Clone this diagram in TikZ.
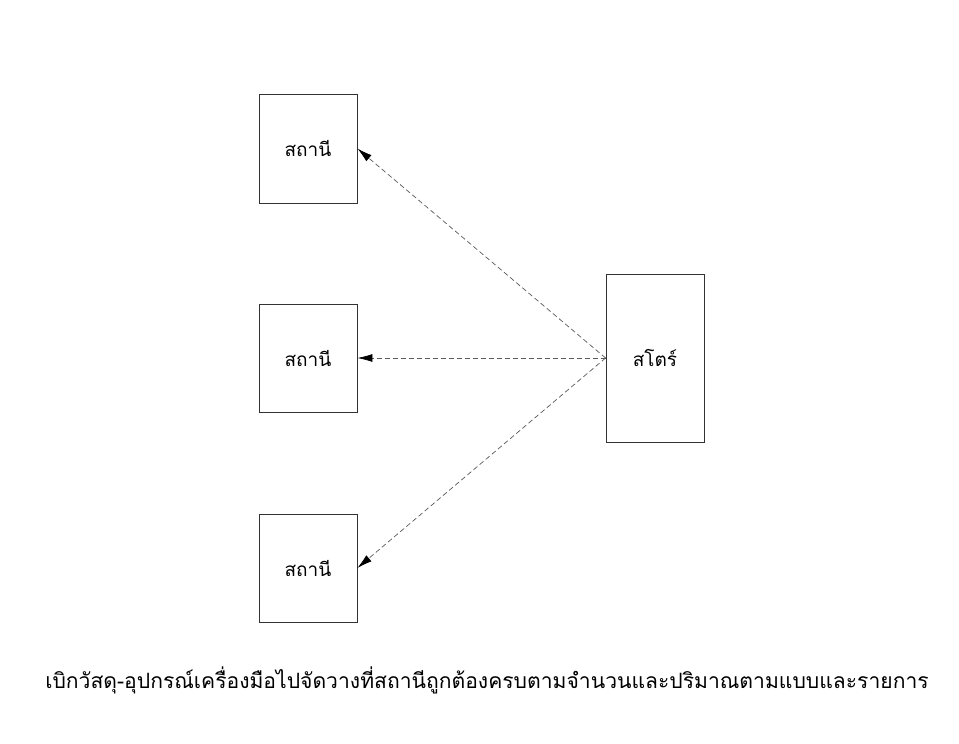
\documentclass[tikz,border=0pt]{standalone}
\usepackage{fontspec}
\newfontfamily\thaifont[Script=Thai]{Loma}
\usetikzlibrary{arrows.meta}
\begin{document}
\begin{tikzpicture}[x=1pt,y=-1pt,
  box/.style={draw=black!80,line width=0.8pt,fill=white,inner sep=0pt,font=\thaifont\fontsize{19}{22}\selectfont},
  link/.style={draw=black!65,dashed,dash pattern=on 5pt off 3pt,line width=0.7pt,-{Latex[length=15pt,width=8pt,black]}}]
\useasboundingbox (0,0) rectangle (959,744);
\node[box,minimum width=98pt,minimum height=109pt] (s1) at (308,148.5) {สถานี};
\node[box,minimum width=98pt,minimum height=108pt] (s2) at (308,358) {สถานี};
\node[box,minimum width=98pt,minimum height=108pt] (s3) at (308,568) {สถานี};
\node[box,minimum width=98pt,minimum height=168pt] (st) at (655,358) {สโตร์};
\draw[link] (st.west) -- (s1.east);
\draw[link] (st.west) -- (s2.east);
\draw[link] (st.west) -- (s3.east);
\node[font=\thaifont\fontsize{21.1}{24}\selectfont] (cap) at (487,680) {เบิกวัสดุ-อุปกรณ์เครื่องมือไปจัดวางที่สถานีถูกต้องครบตามจำนวนและปริมาณตามแบบและรายการ};
\end{tikzpicture}
\end{document}
